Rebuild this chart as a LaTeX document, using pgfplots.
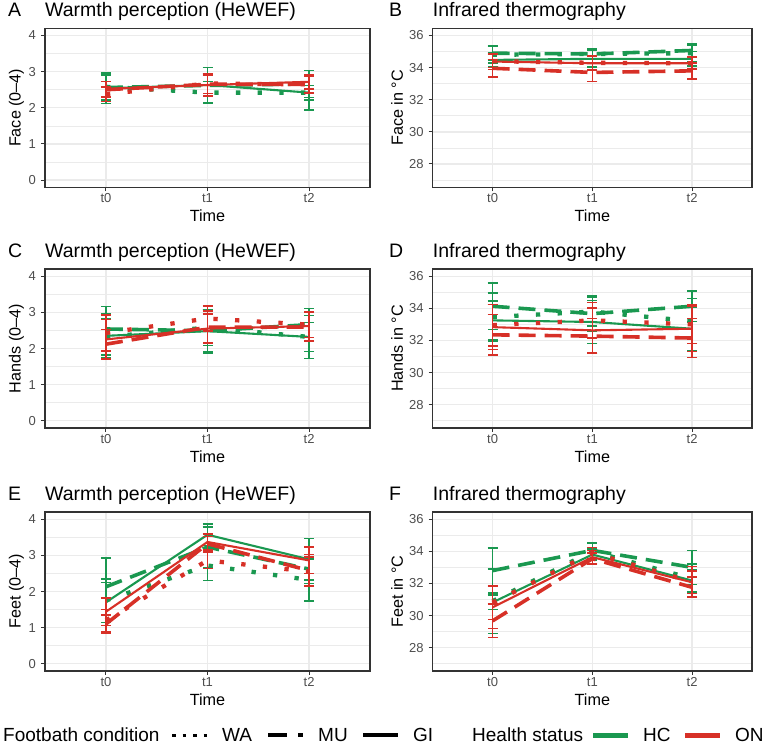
\documentclass[border=0pt]{standalone}
\usepackage{pgfplots}
\pgfplotsset{compat=1.18}
\usepackage{fontspec}
\setmainfont{Liberation Sans}
\definecolor{hc}{HTML}{1A9850}
\definecolor{on}{HTML}{D73027}
\definecolor{gridc}{HTML}{EBEBEB}
\definecolor{tickc}{HTML}{4D4D4D}
\definecolor{framec}{HTML}{333333}
\newcommand{\fs}[1]{\fontsize{#1}{#1}\selectfont}

\pgfplotsset{
  panel/.style={
    scale only axis, height=159pt,
    xmin=-0.6, xmax=2.6,
    xtick={0,1,2}, xticklabels={t0,t1,t2},
    axis line style={framec, line width=1.1pt},
    xtick pos=lower, ytick pos=left,
    tick align=outside, major tick length=4pt,
    tick style={framec, line width=1pt},
    xmajorgrids, ymajorgrids, yminorgrids,
    major grid style={gridc, line width=1.3pt},
    minor grid style={gridc, line width=0.7pt},
    minor tick length=0pt,
    ticklabel style={font=\fs{13}, text=tickc},
    /pgf/number format/assume math mode=true,
    xticklabel style={anchor=base, inner sep=0pt, yshift=-11.7pt},
    yticklabel style={anchor=east, inner sep=0pt, xshift=-5pt},
    xlabel={Time},
    label style={font=\fs{16.2}},
    xlabel style={at={(axis description cs:0.5,0)}, anchor=base, yshift=-34.4pt, inner sep=0pt},
    every axis plot/.append style={no markers},
    error bars/y dir=both, error bars/y explicit,
    error bars/error mark=-,
    error bars/error bar style={solid, line width=1.4pt},
    error bars/error mark options={solid, rotate=90, line width=1.4pt, mark size=5pt},
  },
  scoreaxis/.style={panel, width=325pt, ymin=-0.2, ymax=4.2, ytick={0,1,2,3,4}, minor ytick={0.5,1.5,2.5,3.5},
    ylabel style={at={(axis description cs:-0.0877,0.5)}, anchor=center, inner sep=0pt}},
  tempaxis/.style={panel, width=319.3pt, ymin=26.55, ymax=36.45, ytick={28,30,32,34,36}, minor ytick={27,29,31,33,35},
    ylabel style={at={(axis description cs:-0.1118,0.5)}, anchor=center, inner sep=0pt}},
  WA/.style={line width=4.3pt, dash pattern=on 4.3pt off 17.4pt},
  MU/.style={line width=3.6pt, dash pattern=on 17pt off 9pt},
  GI/.style={line width=2.1pt, solid},
}

\begin{document}
\begin{tikzpicture}
\useasboundingbox (0pt,0pt) rectangle (764pt,746pt);

% ---------- A ----------
\begin{axis}[scoreaxis, at={(45pt,717.7pt)}, anchor=north west, ylabel={Face (0–4)}]
\addplot[hc,WA] coordinates {(0,2.58) +- (0,0.35) (1,2.42) +- (0,0.30) (2,2.42) +- (0,0.20)};
\addplot[hc,MU] coordinates {(0,2.56) +- (0,0.35) (1,2.62) +- (0,0.30) (2,2.66) +- (0,0.38)};
\addplot[hc,GI] coordinates {(0,2.54) +- (0,0.42) (1,2.63) +- (0,0.48) (2,2.42) +- (0,0.48)};
\addplot[on,WA] coordinates {(0,2.38) +- (0,0.20) (1,2.67) +- (0,0.28) (2,2.65) +- (0,0.25)};
\addplot[on,MU] coordinates {(0,2.50) +- (0,0.22) (1,2.65) +- (0,0.25) (2,2.65) +- (0,0.22)};
\addplot[on,GI] coordinates {(0,2.52) +- (0,0.21) (1,2.63) +- (0,0.30) (2,2.72) +- (0,0.20)};
\end{axis}

% ---------- B ----------
\begin{axis}[tempaxis, at={(432.7pt,717.7pt)}, anchor=north west, ylabel={Face in °C}]
\addplot[hc,WA] coordinates {(0,34.80) +- (0,0.50) (1,34.85) +- (0,0.30) (2,34.90) +- (0,0.50)};
\addplot[hc,MU] coordinates {(0,34.90) +- (0,0.45) (1,34.85) +- (0,0.35) (2,35.07) +- (0,0.40)};
\addplot[hc,GI] coordinates {(0,34.48) +- (0,0.45) (1,34.55) +- (0,0.50) (2,34.55) +- (0,0.45)};
\addplot[on,WA] coordinates {(0,34.40) +- (0,0.40) (1,34.30) +- (0,0.40) (2,34.27) +- (0,0.35)};
\addplot[on,MU] coordinates {(0,33.96) +- (0,0.55) (1,33.70) +- (0,0.55) (2,33.80) +- (0,0.50)};
\addplot[on,GI] coordinates {(0,34.38) +- (0,0.50) (1,34.27) +- (0,0.45) (2,34.27) +- (0,0.40)};
\end{axis}

% ---------- C ----------
\begin{axis}[scoreaxis, at={(45pt,477pt)}, anchor=north west, ylabel={Hands (0–4)}]
\addplot[hc,WA] coordinates {(0,2.32) +- (0,0.50) (1,2.58) +- (0,0.50) (2,2.32) +- (0,0.40)};
\addplot[hc,MU] coordinates {(0,2.54) +- (0,0.62) (1,2.49) +- (0,0.58) (2,2.66) +- (0,0.45)};
\addplot[hc,GI] coordinates {(0,2.35) +- (0,0.60) (1,2.48) +- (0,0.60) (2,2.32) +- (0,0.60)};
\addplot[on,WA] coordinates {(0,2.43) +- (0,0.50) (1,2.83) +- (0,0.35) (2,2.66) +- (0,0.35)};
\addplot[on,MU] coordinates {(0,2.12) +- (0,0.40) (1,2.59) +- (0,0.45) (2,2.59) +- (0,0.40)};
\addplot[on,GI] coordinates {(0,2.25) +- (0,0.55) (1,2.55) +- (0,0.40) (2,2.62) +- (0,0.40)};
\end{axis}

% ---------- D ----------
\begin{axis}[tempaxis, at={(432.7pt,477pt)}, anchor=north west, ylabel={Hands in °C}]
\addplot[hc,WA] coordinates {(0,33.46) +- (0,1.50) (1,33.80) +- (0,0.90) (2,33.20) +- (0,1.40)};
\addplot[hc,MU] coordinates {(0,34.13) +- (0,1.45) (1,33.67) +- (0,1.10) (2,34.13) +- (0,0.95)};
\addplot[hc,GI] coordinates {(0,33.25) +- (0,1.20) (1,33.15) +- (0,1.35) (2,32.73) +- (0,1.35)};
\addplot[on,WA] coordinates {(0,32.95) +- (0,1.30) (1,33.25) +- (0,1.10) (2,33.00) +- (0,1.20)};
\addplot[on,MU] coordinates {(0,32.35) +- (0,1.25) (1,32.27) +- (0,1.10) (2,32.15) +- (0,1.20)};
\addplot[on,GI] coordinates {(0,32.83) +- (0,1.40) (1,32.63) +- (0,1.40) (2,32.73) +- (0,1.40)};
\end{axis}

% ---------- E ----------
\begin{axis}[scoreaxis, at={(45pt,234pt)}, anchor=north west, ylabel={Feet (0–4)}]
\addplot[hc,WA] coordinates {(0,1.75) +- (0,0.60) (1,2.72) +- (0,0.42) (2,2.32) +- (0,0.58)};
\addplot[hc,MU] coordinates {(0,2.13) +- (0,0.80) (1,3.23) +- (0,0.56) (2,2.62) +- (0,0.40)};
\addplot[hc,GI] coordinates {(0,1.70) +- (0,0.55) (1,3.57) +- (0,0.30) (2,2.89) +- (0,0.57)};
\addplot[on,WA] coordinates {(0,1.20) +- (0,0.30) (1,2.86) +- (0,0.22) (2,2.55) +- (0,0.40)};
\addplot[on,MU] coordinates {(0,1.10) +- (0,0.25) (1,3.32) +- (0,0.20) (2,2.58) +- (0,0.45)};
\addplot[on,GI] coordinates {(0,1.44) +- (0,0.38) (1,3.37) +- (0,0.22) (2,2.86) +- (0,0.37)};
\end{axis}

% ---------- F ----------
\begin{axis}[tempaxis, at={(432.7pt,234pt)}, anchor=north west, ylabel={Feet in °C}]
\addplot[hc,WA] coordinates {(0,30.90) +- (0,2.00) (1,34.00) +- (0,0.50) (2,32.30) +- (0,0.90)};
\addplot[hc,MU] coordinates {(0,32.80) +- (0,1.40) (1,34.06) +- (0,0.50) (2,33.00) +- (0,1.05)};
\addplot[hc,GI] coordinates {(0,30.82) +- (0,0.45) (1,33.80) +- (0,0.35) (2,32.18) +- (0,0.70)};
\addplot[on,WA] coordinates {(0,30.80) +- (0,1.05) (1,33.90) +- (0,0.35) (2,32.10) +- (0,0.95)};
\addplot[on,MU] coordinates {(0,29.67) +- (0,1.05) (1,33.54) +- (0,0.35) (2,31.76) +- (0,0.65)};
\addplot[on,GI] coordinates {(0,30.51) +- (0,1.30) (1,33.64) +- (0,0.40) (2,32.07) +- (0,0.70)};
\end{axis}

% ---------- titles ----------
\begin{scope}[every node/.style={anchor=base west, inner sep=0pt, font=\fs{19.5}}]
\node at (8pt,729.2pt) {A};   \node at (45pt,729.2pt) {Warmth perception (HeWEF)};
\node at (389pt,729.2pt) {B}; \node at (432.7pt,729.2pt) {Infrared thermography};
\node at (8pt,488.5pt) {C};   \node at (45pt,488.5pt) {Warmth perception (HeWEF)};
\node at (389pt,488.5pt) {D}; \node at (432.7pt,488.5pt) {Infrared thermography};
\node at (8pt,245.5pt) {E};   \node at (45pt,245.5pt) {Warmth perception (HeWEF)};
\node at (389pt,245.5pt) {F}; \node at (432.7pt,245.5pt) {Infrared thermography};
\end{scope}

% ---------- legend ----------
\begin{scope}[every node/.style={anchor=base west, inner sep=0pt, font=\fs{19}}]
\node at (3pt,4.5pt) {Footbath condition};
\draw[black, line width=3.5pt, dash pattern=on 3.5pt off 7pt] (172pt,10.5pt) -- (207pt,10.5pt);
\node at (222pt,4.5pt) {WA};
\draw[black, line width=4pt, dash pattern=on 19pt off 11pt] (268pt,10.5pt) -- (303pt,10.5pt);
\node at (318pt,4.5pt) {MU};
\draw[black, line width=4pt] (363pt,10.5pt) -- (398pt,10.5pt);
\node at (413pt,4.5pt) {GI};
\node at (472pt,4.5pt) {Health status};
\draw[hc, line width=5pt] (593pt,10.5pt) -- (628pt,10.5pt);
\node at (643pt,4.5pt) {HC};
\draw[on, line width=5pt] (685pt,10.5pt) -- (720pt,10.5pt);
\node at (735pt,4.5pt) {ON};
\end{scope}
\end{tikzpicture}
\end{document}
